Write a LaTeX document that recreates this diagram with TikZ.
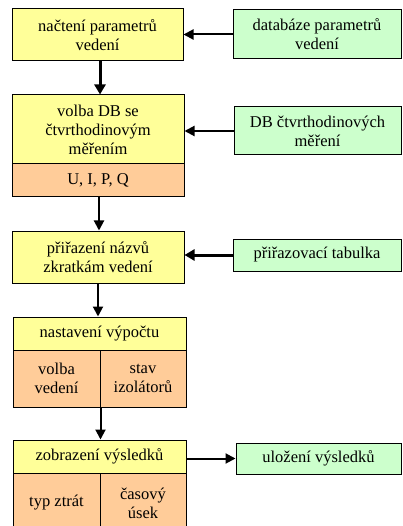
\documentclass[tikz,border=0pt]{standalone}
\usepackage{fontspec}
\setmainfont{Liberation Serif}
\usetikzlibrary{arrows.meta}
\definecolor{yel}{HTML}{FFFF99}
\definecolor{grn}{HTML}{CCFFCC}
\definecolor{org}{HTML}{FFCC99}
\begin{document}
\begin{tikzpicture}[x=1pt,y=-1pt,
  box/.style={draw=black,line width=1pt,inner sep=0pt,align=center,font=\fontsize{16.5}{19}\selectfont},
  ybox/.style={box,fill=yel},
  gbox/.style={box,fill=grn},
  obox/.style={box,fill=org},
  arr/.style={line width=2pt,-{Triangle[length=10pt,width=10pt]}},
  tarr/.style={line width=3pt,-{Triangle[length=10pt,width=11pt]}}]
\useasboundingbox (0,0) rectangle (402,526);
\clip (0,0) rectangle (402,526);
% column 1
\node[ybox,minimum width=171pt,minimum height=52pt] (a) at (97.5,35) {načtení parametrů\\vedení};
\node[ybox,minimum width=172pt,minimum height=69pt] (b) at (98,129.5) {volba DB se\\čtvrthodinovým\\měřením};
\node[obox,minimum width=172pt,minimum height=33pt] (bo) at (98,180.5) {U, I, P, Q};
\node[ybox,minimum width=172pt,minimum height=52pt] (c) at (98,257) {přiřazení názvů\\zkratkám vedení};
\node[ybox,minimum width=173pt,minimum height=33pt] (d) at (99.5,333.5) {nastavení výpočtu};
\node[obox,minimum width=87pt,minimum height=57pt] (dl) at (56.5,378.5) {volba\\vedení};
\node[obox,minimum width=86pt,minimum height=57pt] (dr) at (143,378.5) {stav\\izolátorů};
\node[ybox,minimum width=173pt,minimum height=33pt] (e) at (99.5,456.5) {zobrazení výsledků};
\node[obox,minimum width=87pt,minimum height=60pt] (el) at (56.5,503) {typ ztrát};
\node[obox,minimum width=86pt,minimum height=60pt] (er) at (143,503) {časový\\úsek};
% column 2
\node[gbox,minimum width=168pt,minimum height=49pt] (g1) at (317,34.5) {databáze parametrů\\vedení};
\node[gbox,minimum width=167pt,minimum height=48pt] (g2) at (317.5,131) {DB čtvrthodinových\\měření};
\node[gbox,minimum width=168pt,minimum height=32pt] (g3) at (317,255) {přiřazovací tabulka};
\node[gbox,minimum width=165pt,minimum height=31pt] (g5) at (318.5,458.5) {uložení výsledků};
% connectors
\draw[tarr] (a.south -| 100,0) -- (b.north -| 100,0);
\draw[arr] (bo.south -| 99,0) -- (c.north -| 99,0);
\draw[arr] (c.south -| 98,0) -- (d.north -| 98,0);
\draw[arr] (dl.south east) -- (e.north -| dl.south east);
\draw[arr] (g1.west) -- (a.east |- g1.west);
\draw[arr] (g2.west) -- (b.east |- g2.west);
\draw[tarr] (g3.west) -- (c.east |- g3.west);
\draw[arr] (e.east |- g5.west) -- (g5.west);
\end{tikzpicture}
\end{document}
